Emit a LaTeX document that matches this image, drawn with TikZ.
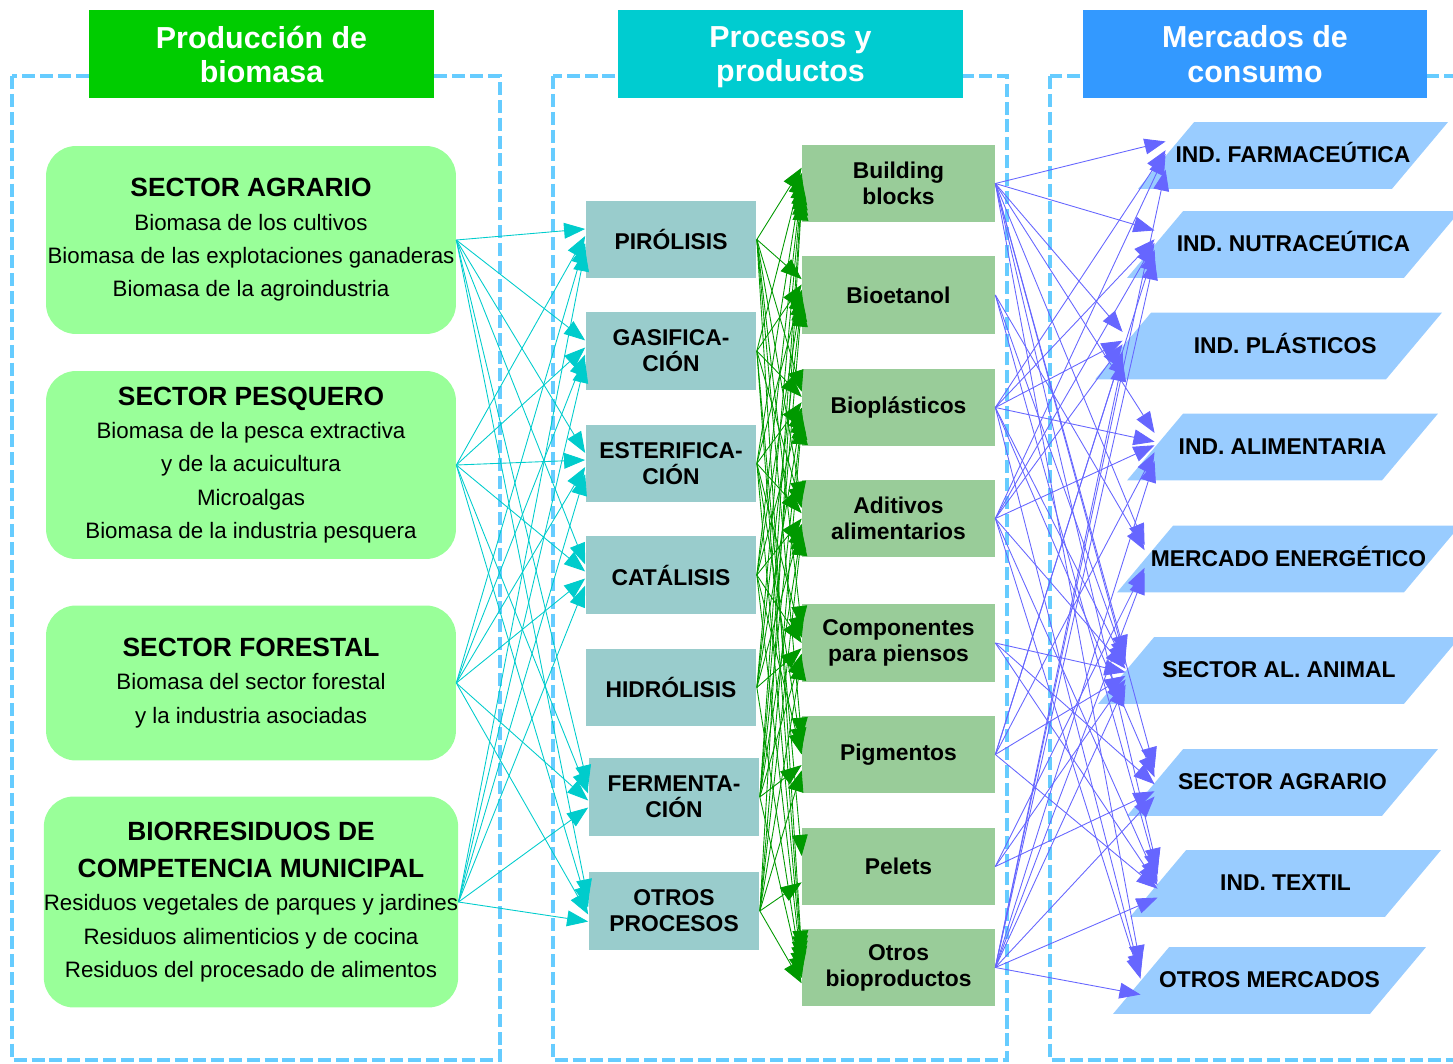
\documentclass[tikz,border=0pt]{standalone}
\usepackage{fontspec}
\setmainfont{Liberation Sans}
\usetikzlibrary{shapes.geometric,arrows.meta}

\definecolor{frameblue}{HTML}{66CCFF}
\definecolor{headgreen}{HTML}{00CC00}
\definecolor{headcyan}{HTML}{00CCD0}
\definecolor{headblue}{HTML}{3399FF}
\definecolor{sectorgreen}{HTML}{99FF99}
\definecolor{procteal}{HTML}{99CCCC}
\definecolor{prodgreen}{HTML}{99CC99}
\definecolor{marketblue}{HTML}{99CCFF}
\definecolor{arrcyan}{HTML}{00CCCC}
\definecolor{arrgreen}{HTML}{009900}
\definecolor{arrblue}{HTML}{6666FF}

% market text may run over the slanted sides
\newcommand{\marketlabel}[1]{\makebox[0pt]{#1}}

\begin{document}
\begin{tikzpicture}[x=0.02cm,y=-0.02cm,
  frame/.style={draw=frameblue,line width=2.8pt,dash pattern=on 7.4pt off 2.8pt},
  header/.style={text=white,font=\fontsize{17.3}{19.5}\selectfont\bfseries,align=center,
    minimum width=6.9cm,minimum height=1.76cm,text depth=0pt},
  sector/.style={fill=sectorgreen,rounded corners=0.6cm,minimum width=8.2cm,inner xsep=0pt,
    align=center,font=\fontsize{12.7}{19}\selectfont},
  proc/.style={fill=procteal,minimum width=3.42cm,minimum height=1.55cm,align=center,
    font=\fontsize{13}{14.7}\selectfont\bfseries},
  prod/.style={fill=prodgreen,minimum width=3.86cm,minimum height=1.55cm,align=center,
    font=\fontsize{13}{14.7}\selectfont\bfseries},
  market/.style={trapezium,trapezium left angle=50,trapezium right angle=130,trapezium stretches body,
    fill=marketblue,inner xsep=0pt,inner ysep=13pt,text height=10pt,text depth=2pt,
    font=\fontsize{13}{15}\selectfont\bfseries},
  toproc/.style={draw=arrcyan,line width=0.5pt,-{Triangle[length=12pt,width=9pt]}},
  toprod/.style={draw=arrgreen,line width=0.5pt,-{Triangle[length=12pt,width=9pt]}},
  tomarket/.style={draw=arrblue,line width=0.5pt,-{Triangle[length=12pt,width=9pt]}}]
\useasboundingbox (0,0) rectangle (1453,1064);

% Frames
\draw[frame] (12,76) rectangle (500,1060);
\draw[frame] (553,76) rectangle (1007,1060);
\draw[frame] (1050,76) rectangle (1470,1060);

% Headers
\node[header,fill=headgreen] (hbio) at (261.5,54) {Producción de\\biomasa};
\node[header,fill=headcyan] (hproc) at (790.5,54) {Procesos y\\productos};
\node[header,fill=headblue] (hmerc) at (1255,54) {Mercados de\\consumo};

% Biomass sectors
\node[sector,minimum height=3.76cm] (agr) at (251,240) {{\fontsize{15}{19}\selectfont\bfseries SECTOR AGRARIO}\\
  Biomasa de los cultivos\\Biomasa de las explotaciones ganaderas\\Biomasa de la agroindustria};
\node[sector,minimum height=3.76cm] (pes) at (251,465) {{\fontsize{15}{19}\selectfont\bfseries SECTOR PESQUERO}\\
  Biomasa de la pesca extractiva\\y de la acuicultura\\Microalgas\\Biomasa de la industria pesquera};
\node[sector,minimum height=3.1cm] (for) at (251,683) {{\fontsize{15}{19}\selectfont\bfseries SECTOR FORESTAL}\\
  Biomasa del sector forestal\\y la industria asociadas};
\node[sector,minimum height=4.22cm] (bio) at (251,902) {{\fontsize{15}{19}\selectfont\bfseries BIORRESIDUOS DE}\\[2pt]
  {\fontsize{15}{19}\selectfont\bfseries COMPETENCIA MUNICIPAL}\\
  Residuos vegetales de parques y jardines\\Residuos alimenticios y de cocina\\Residuos del procesado de alimentos};

% Processes
\node[proc] (pir) at (671,239.5) {PIRÓLISIS};
\node[proc] (gas) at (671,351) {GASIFICA-\\CIÓN};
\node[proc] (est) at (671,463.5) {ESTERIFICA-\\CIÓN};
\node[proc] (cat) at (671,575) {CATÁLISIS};
\node[proc] (hid) at (671,687.5) {HIDRÓLISIS};
\node[proc] (fer) at (674,797) {FERMENTA-\\CIÓN};
\node[proc] (otr) at (674,911) {OTROS\\PROCESOS};

% Products
\node[prod] (bb) at (898.5,183.5) {Building\\blocks};
\node[prod] (eta) at (898.5,295) {Bioetanol};
\node[prod] (bpl) at (898.5,407.5) {Bioplásticos};
\node[prod] (adi) at (898.5,518.5) {Aditivos\\alimentarios};
\node[prod] (com) at (898.5,643) {Componentes\\para piensos};
\node[prod] (pig) at (898.5,754.5) {Pigmentos};
\node[prod] (pel) at (898.5,866.5) {Pelets};
\node[prod] (otb) at (898.5,967.5) {Otros\\bioproductos};

% Markets
\node[market,minimum width=6.2cm] (farm) at (1293,155.5) {\marketlabel{IND. FARMACEÚTICA}};
\node[market,minimum width=6.66cm] (nut) at (1293.5,244.5) {\marketlabel{IND. NUTRACEÚTICA}};
\node[market,minimum width=6.94cm] (pla) at (1268.5,346) {\marketlabel{\hspace{19pt}IND. PLÁSTICOS}};
\node[market,minimum width=6.22cm] (ali) at (1282.5,447) {\marketlabel{IND. ALIMENTARIA}};
\node[market,minimum width=6.86cm] (ene) at (1288.5,559) {\marketlabel{MERCADO ENERGÉTICO}};
\node[market,minimum width=7.24cm] (ani) at (1279,670.5) {\marketlabel{SECTOR AL. ANIMAL}};
\node[market,minimum width=6.22cm] (agm) at (1282.5,782.5) {\marketlabel{SECTOR AGRARIO}};
\node[market,minimum width=6.22cm] (tex) at (1285.5,883.5) {\marketlabel{IND. TEXTIL}};
\node[market,minimum width=6.26cm] (otm) at (1269.5,980.5) {\marketlabel{OTROS MERCADOS}};

% Biomass -> processes
\foreach \s/\d in {agr/6,pes/2,for/-2,bio/-6}
  \foreach \t in {pir,gas,est,cat,fer,otr}
    \draw[toproc] (\s.east) -- ([yshift=\d pt]\t.west);

% Processes -> products
\foreach \s/\d/\l in {pir/9/{bb,eta,bpl,adi,com,pig,otb},gas/6/{bb,eta,bpl,adi,pel,otb},
    est/3/{bb,eta,bpl,adi,com,pig,otb},cat/0/{bb,eta,bpl,adi,com,pig,otb},
    hid/-3/{bb,eta,bpl,adi,com,otb},fer/-6/{bb,eta,bpl,adi,com,pig,otb},
    otr/-9/{bb,bpl,adi,com,pig,pel,otb}}
  \foreach \t in \l
    \draw[toprod] (\s.east) -- ([yshift=\d pt]\t.west);

% Products -> markets
\foreach \s/\d/\l in {bb/8/{farm,nut,pla,ali,ene,ani,agm,tex,otm},eta/5/{ene,ani,tex},
    bpl/3/{farm,nut,pla,ali,ani,agm,otm},adi/1/{farm,nut,pla,ali,ani,tex,otm},
    com/-1/{ani,agm,tex},pig/-3/{nut,pla,ali,ani,tex},pel/-5/{ene,ani,agm},
    otb/-8/{farm,nut,pla,ali,ene,ani,agm,tex,otm}}
  \foreach \t in \l
    \draw[tomarket] (\s.east) -- ([yshift=\d pt]\t.west);
\end{tikzpicture}
\end{document}
